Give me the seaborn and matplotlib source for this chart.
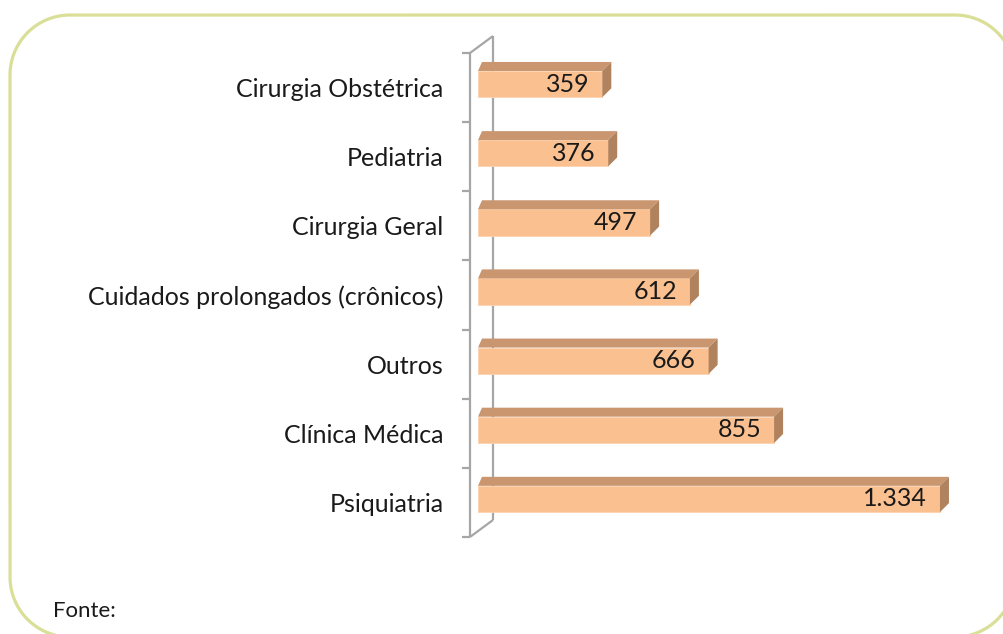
import numpy as np
import matplotlib
matplotlib.use('Agg')
import matplotlib.pyplot as plt
import seaborn as sns
from matplotlib.patches import Polygon
from matplotlib.lines import Line2D
from matplotlib.transforms import IdentityTransform

# Dados do gráfico
categorias = ['Cirurgia Obstétrica', 'Pediatria', 'Cirurgia Geral',
              'Cuidados prolongados (crônicos)', 'Outros', 'Clínica Médica',
              'Psiquiatria']
valores = [359, 376, 497, 612, 666, 855, 1334]
fonte = 'Fonte:'

# Cores (estilo Excel 3D)
cor_frente = '#FAC090'
cor_topo = '#C99670'
cor_lado = '#B0835E'
cor_parede = '#A6A6A6'
cor_moldura = '#DADF97'

sns.set_style('white')
plt.rcParams['font.family'] = ['Lato', 'DejaVu Sans']

W, H = 1004, 634
fig = plt.figure(figsize=(W / 100, H / 100), dpi=100)


def retangulo_arredondado(x0, y0, x1, y1, r, n=40):
    """Contorno de um retângulo com cantos arredondados (em pixels)."""
    xs, ys = [], []
    cantos = [((x1 - r, y1 - r), 0), ((x0 + r, y1 - r), 90),
              ((x0 + r, y0 + r), 180), ((x1 - r, y0 + r), 270)]
    for (cx, cy), a0 in cantos:
        t = np.radians(np.linspace(a0, a0 + 90, n))
        xs.extend(cx + r * np.cos(t))
        ys.extend(cy + r * np.sin(t))
    xs.append(xs[0])
    ys.append(ys[0])
    return xs, ys


# Moldura arredondada (coordenadas em pixels, origem embaixo)
mx, my = retangulo_arredondado(10, -3, 1015, H - 15, 60)
fig.lines.append(Line2D(mx, my, transform=IdentityTransform(),
                        color=cor_moldura, linewidth=2.3))

# Eixo: parede frontal em x=470 px, topo 53 px, base 537 px
ax = fig.add_axes([470 / W, (H - 537) / H, 490 / W, 484 / H])
df_x0 = -23.1
ax_w_px = 490
xmax = df_x0 + ax_w_px / 0.3463
sns.barplot(x=valores, y=categorias, orient='h', color=cor_frente,
            width=0.38, saturation=1, ax=ax, zorder=3,
            edgecolor='#FCD3B0', linewidth=0.6)
ax.set_xlim(df_x0, xmax)
ax.set_ylim(6.5, -0.5)

ux = (xmax - df_x0) / ax_w_px   # unidades por pixel em x
uy = 7 / 484                    # unidades por pixel em y

# Desloca as barras um pouco para cima e acrescenta faces 3D
dx_dir, dx_esq, dy = 9 * ux, 4 * ux, 9 * uy
for p, v in zip(ax.patches, valores):
    p.set_y(p.get_y() - 0.05)
    x0, x1 = p.get_x(), p.get_x() + p.get_width()
    yt, yb = p.get_y(), p.get_y() + p.get_height()
    topo = Polygon([(x0, yt), (x1, yt), (x1 + dx_dir, yt - dy), (x0 + dx_esq, yt - dy)],
                   closed=True, facecolor=cor_topo, edgecolor='none', zorder=3)
    lado = Polygon([(x1, yt), (x1 + dx_dir, yt - dy), (x1 + dx_dir, yb - dy), (x1, yb)],
                   closed=True, facecolor=cor_lado, edgecolor='none', zorder=3)
    ax.add_patch(topo)
    ax.add_patch(lado)
    rotulo = f'{v:,}'.replace(',', '.')
    ax.text(x1 - 13 * ux, (yt + yb) / 2, rotulo, ha='right', va='center',
            fontsize=18, color='#1a1a1a', zorder=4)

# Parede 3D do eixo vertical
xb = df_x0 + 23 * ux
up = 17 * uy
kw = dict(color=cor_parede, linewidth=1.6, clip_on=False, zorder=1,
          solid_capstyle='butt')
ax.plot([df_x0, df_x0], [-0.5, 6.5], **kw)
ax.plot([xb, xb], [-0.5 - up, 6.5 - up], **kw)
ax.plot([df_x0, xb], [-0.5, -0.5 - up], **kw)
ax.plot([df_x0, xb], [6.5, 6.5 - up], **kw)
for k in range(8):
    ax.plot([df_x0 - 8 * ux, df_x0], [k - 0.5, k - 0.5], **kw)

sns.despine(ax=ax, left=True, bottom=True)
ax.set_xticks([])
ax.set_xlabel('')
ax.set_ylabel('')
ax.tick_params(axis='y', length=0, pad=19, labelsize=18, labelcolor='#1a1a1a')

fig.text(53 / W, (H - 617) / H, fonte, fontsize=16, color='#1a1a1a',
         ha='left', va='baseline')

fig.savefig('out.png', dpi=100)
